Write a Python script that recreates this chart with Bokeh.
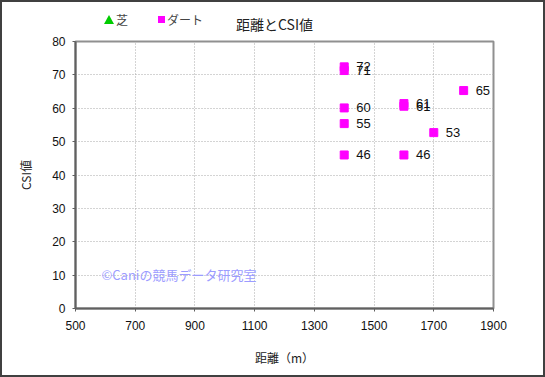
from bokeh.plotting import figure
from bokeh.layouts import column
from bokeh.models import ColumnDataSource, Label, FixedTicker, Div
from bokeh.core.properties import value
from bokeh.embed import file_html
from bokeh.resources import INLINE

# data
dirt_dist = [1400, 1400, 1400, 1400, 1400, 1600, 1600, 1600, 1700, 1800]
dirt_csi = [72.4, 71.3, 60.1, 55.4, 46.0, 61.4, 60.6, 46.0, 52.7, 65.3]
dirt_labels = ["72", "71", "60", "55", "46", "61", "61", "46", "53", "65"]
turf_dist = []
turf_csi = []
x_ticks = [500, 700, 900, 1100, 1300, 1500, 1700, 1900]
y_ticks = [0, 10, 20, 30, 40, 50, 60, 70, 80]
title_text = "距離とCSI値"
series_names = ["芝", "ダート"]

JP = "Noto Sans CJK JP"
TURF_COLOR = "#00cc00"
DIRT_COLOR = "#ff00ff"

# ---- header strip: legend + title (HTML) ----
header_html = f"""
<div style="position:relative;width:541px;height:32px;font-family:'{JP}';line-height:1;">
  <div style="position:absolute;left:102px;top:13px;width:0;height:0;
              border-left:5px solid transparent;border-right:5px solid transparent;
              border-bottom:9px solid {TURF_COLOR};"></div>
  <span style="position:absolute;left:114px;top:12px;font-size:12px;color:#444444;">{series_names[0]}</span>
  <div style="position:absolute;left:156px;top:14px;width:7px;height:7px;background:{DIRT_COLOR};"></div>
  <span style="position:absolute;left:165px;top:12px;font-size:12px;color:#444444;">{series_names[1]}</span>
  <span style="position:absolute;left:234px;top:15px;font-size:14px;color:#222222;">{title_text}</span>
</div>
"""
h = Div(text=header_html, width=541, height=32,
        styles={"margin": "0", "padding": "0", "background-color": "white"})

# ---- main plot ----
p = figure(width=541, height=341, output_backend="svg", toolbar_location=None,
           x_range=(500, 1900), y_range=(0, 80),
           min_border_left=73, min_border_right=50, min_border_top=7, min_border_bottom=67)
p.background_fill_color = "white"
p.border_fill_color = "white"
p.outline_line_color = "#909090"
p.outline_line_width = 2

p.xaxis.ticker = FixedTicker(ticks=x_ticks)
p.yaxis.ticker = FixedTicker(ticks=y_ticks)
for ax in (p.xaxis, p.yaxis):
    ax.major_label_text_font = "Liberation Sans"
    ax.major_label_text_font_size = "12px"
    ax.major_label_text_color = "#111111"
    ax.axis_line_color = "#606060"
    ax.axis_line_width = 2
    ax.major_tick_line_color = "#606060"
    ax.major_tick_in = 0
    ax.major_tick_out = 3
    ax.minor_tick_line_color = None
    ax.axis_label_text_font = JP
    ax.axis_label_text_font_size = "12px"
    ax.axis_label_text_font_style = "normal"
    ax.axis_label_text_color = "#222222"
p.xaxis.axis_label = "距離（m）"
p.yaxis.axis_label = "CSI値"
p.xaxis.major_label_standoff = 9
p.yaxis.major_label_standoff = 7
p.xaxis.axis_label_standoff = 16
p.yaxis.axis_label_standoff = 15

p.grid.grid_line_color = "#a8a8a8"
p.grid.grid_line_dash = "1 2"
p.grid.grid_line_width = 1

# watermark
p.add_layout(Label(x=587, y=10.2, text="©Caniの競馬データ研究室", text_font=JP,
                   text_font_size="13px", text_color="#9c9cff", text_baseline="middle"))

turf_src = ColumnDataSource(dict(x=turf_dist, y=turf_csi))
p.scatter("x", "y", source=turf_src, marker="triangle", size=10,
          fill_color=TURF_COLOR, line_color="#007700")

dirt_src = ColumnDataSource(dict(x=dirt_dist, y=dirt_csi, t=dirt_labels))
p.scatter("x", "y", source=dirt_src, marker="square", size=8,
          fill_color=DIRT_COLOR, line_color=DIRT_COLOR)
p.text("x", "y", text="t", source=dirt_src, x_offset=12, text_baseline="middle",
       text_align="left", text_font=value("Liberation Sans"), text_font_size="13px",
       text_color="#111111")

layout = column(h, p, spacing=0,
                styles={"border": "2px solid #404040", "background-color": "white"})

open("out.html", "w").write(file_html(layout, INLINE))
